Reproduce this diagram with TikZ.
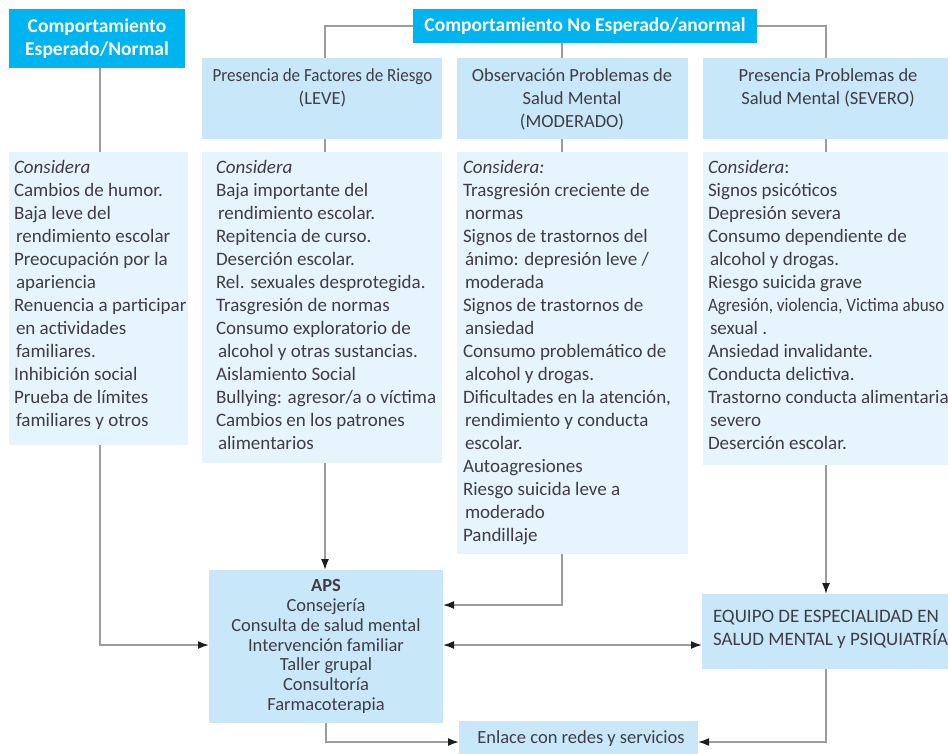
\documentclass[tikz,border=0pt]{standalone}
\usepackage{fontspec}
\setmainfont{Carlito}
\usetikzlibrary{arrows.meta,calc}
\definecolor{cyanH}{HTML}{00B4EF}
\definecolor{boxA}{HTML}{C8E8F9}
\definecolor{boxB}{HTML}{E6F5FD}
\definecolor{lineG}{HTML}{9C9C9C}
\definecolor{txt}{HTML}{403C46}
\definecolor{tipC}{HTML}{1E1E1E}
\newcommand\cind{\hspace*{2pt}}
\newcommand\fl{\rule{0pt}{15pt}}
\begin{document}
\begin{tikzpicture}[x=1pt,y=-1pt,
 every node/.style={inner sep=0pt,outer sep=0pt},
 hdr/.style={fill=cyanH,text=white,font=\fontsize{19.5}{23}\selectfont\bfseries,align=center,anchor=north west},
 boxa/.style={fill=boxA,anchor=north west},
 boxb/.style={fill=boxB,anchor=north west},
 ttl/.style={text=txt,font=\fontsize{18.5}{23}\selectfont,align=center,anchor=north},
 lst/.style={text=txt,font=\fontsize{19}{23}\selectfont,align=left,anchor=north west},
 conn/.style={draw=lineG,line width=1.6pt},
 arr/.style={conn,-{Latex[length=11pt,width=8pt,color=tipC]}},
 darr/.style={conn,{Latex[length=11pt,width=8pt,color=tipC]}-{Latex[length=11pt,width=8pt,color=tipC]}},
]
\useasboundingbox (0,0) rectangle (948,753);
% headers
\node[hdr,minimum width=176,minimum height=59] (hn) at (9,9) {Comportamiento\\Esperado/Normal};
\node[hdr,minimum width=344,minimum height=34] (ha) at (413,9) {Comportamiento No Esperado/anormal};
% second row
\node[boxa,minimum width=240,minimum height=81] (lv) at (202,58) {};
\node[boxa,minimum width=231,minimum height=81] (md) at (457,58) {};
\node[boxa,minimum width=245,minimum height=81] (sv) at (703,58) {};
\node[ttl] (lvt) at (322.5,66) {\fl\scalebox{0.92}[1]{Presencia de Factores de Riesgo}\\(LEVE)};
\node[ttl] (mdt) at (572,66) {\fl Observación Problemas de\\Salud Mental\\(MODERADO)};
\node[ttl] (svt) at (828,66) {\fl Presencia Problemas de\\Salud Mental (SEVERO)};
% lists
\node[boxb,minimum width=179,minimum height=293] (nl) at (9,152) {};
\node[boxb,minimum width=240,minimum height=311] (ll) at (202,152) {};
\node[boxb,minimum width=231,minimum height=402] (ml) at (457,152) {};
\node[boxb,minimum width=245,minimum height=313] (sl) at (703,152) {};
\node[lst] (nlt) at (14,158.5) {\fl\textit{Considera}\\Cambios de humor.\\Baja leve del\\\cind rendimiento escolar\\Preocupación por la\\\cind apariencia\\Renuencia a participar\\\cind en actividades\\\cind familiares.\\Inhibición social\\Prueba de límites\\\cind familiares y otros};
\node[lst] (llt) at (216,158.5) {\fl\textit{Considera}\\Baja importante del\\\cind rendimiento escolar.\\Repitencia de curso.\\Deserción escolar.\\Rel. sexuales desprotegida.\\Trasgresión de normas\\Consumo exploratorio de\\\cind alcohol y otras sustancias.\\Aislamiento Social\\Bullying: agresor/a o víctima\\Cambios en los patrones\\\cind alimentarios};
\node[lst] (mlt) at (463,158.5) {\fl\textit{Considera:}\\Trasgresión creciente de\\\cind normas\\Signos de trastornos del\\\cind ánimo: depresión leve /\\\cind moderada\\Signos de trastornos de\\\cind ansiedad\\Consumo problemático de\\\cind alcohol y drogas.\\Dificultades en la atención,\\\cind rendimiento y conducta\\\cind escolar.\\Autoagresiones\\Riesgo suicida leve a\\\cind moderado\\Pandillaje};
\node[lst] (slt) at (708,158.5) {\fl\textit{Considera}:\\Signos psicóticos\\Depresión severa\\Consumo dependiente de\\\cind alcohol y drogas.\\Riesgo suicida grave\\\scalebox{0.9}[1]{Agresión, violencia, Victima abuso}\\\cind sexual .\\Ansiedad invalidante.\\Conducta delictiva.\\Trastorno conducta alimentaria\\\cind severo\\Deserción escolar.};
% bottom
\node[boxa,minimum width=234,minimum height=153,align=center,text=txt,font=\fontsize{18.5}{19.8}\selectfont] (aps) at (209,570) {\textbf{APS}\\Consejería\\Consulta de salud mental\\Intervención familiar\\Taller grupal\\Consultoría\\Farmacoterapia};
\node[boxa,minimum width=246,minimum height=75] (eq) at (702,594) {};
\node[text=txt,font=\fontsize{19}{23}\selectfont,align=left,anchor=west] (eqt) at (713,629) {EQUIPO DE ESPECIALIDAD EN\\SALUD MENTAL y PSIQUIATRÍA};
\node[boxa,minimum width=239,minimum height=44] (en) at (459,721) {};
\node[text=txt,font=\fontsize{18.5}{23}\selectfont] (ent) at (581,739) {Enlace con redes y servicios};
% connectors
\draw[conn] ([xshift=3pt]hn.south) -- ([xshift=3pt]hn.south |- nl.north);
\draw[conn] (ha.west) -| ([xshift=123pt]lv.north west);
\draw[conn] (ha.east) -| ([xshift=123pt]sv.north west);
\draw[conn] ([xshift=105pt]md.north west |- ha.south) -- ([xshift=105pt]md.north west);
\draw[conn] ([xshift=123pt]lv.south west) -- ([xshift=123pt]ll.north west);
\draw[conn] ([xshift=105pt]md.south west) -- ([xshift=105pt]ml.north west);
\draw[conn] ([xshift=123pt]sv.south west) -- ([xshift=123pt]sl.north west);
\coordinate (a1) at ($(aps.north west)+(0,75)$);
\coordinate (a2) at ($(aps.north east)+(0,35)$);
\coordinate (a3) at ($(aps.north east)+(0,75)$);
\coordinate (e1) at ($(en.north west)+(0,21)$);
\coordinate (e2) at ($(en.north east)+(0,21)$);
\draw[arr] ([xshift=91pt]nl.south west) |- (a1);
\draw[arr] ([xshift=123pt]ll.south west) -- ([xshift=123pt]ll.south west |- aps.north);
\draw[arr] ([xshift=105pt]ml.south west) |- (a2);
\draw[darr] (a3) -- (a3 -| eq.west);
\draw[arr] ([xshift=123pt]sl.south west) -- ([xshift=123pt]sl.south west |- eq.north);
\draw[arr] ([xshift=117pt]aps.south west) |- (e1);
\draw[arr] ([xshift=124pt]eq.south west) |- (e2);
\end{tikzpicture}
\end{document}
